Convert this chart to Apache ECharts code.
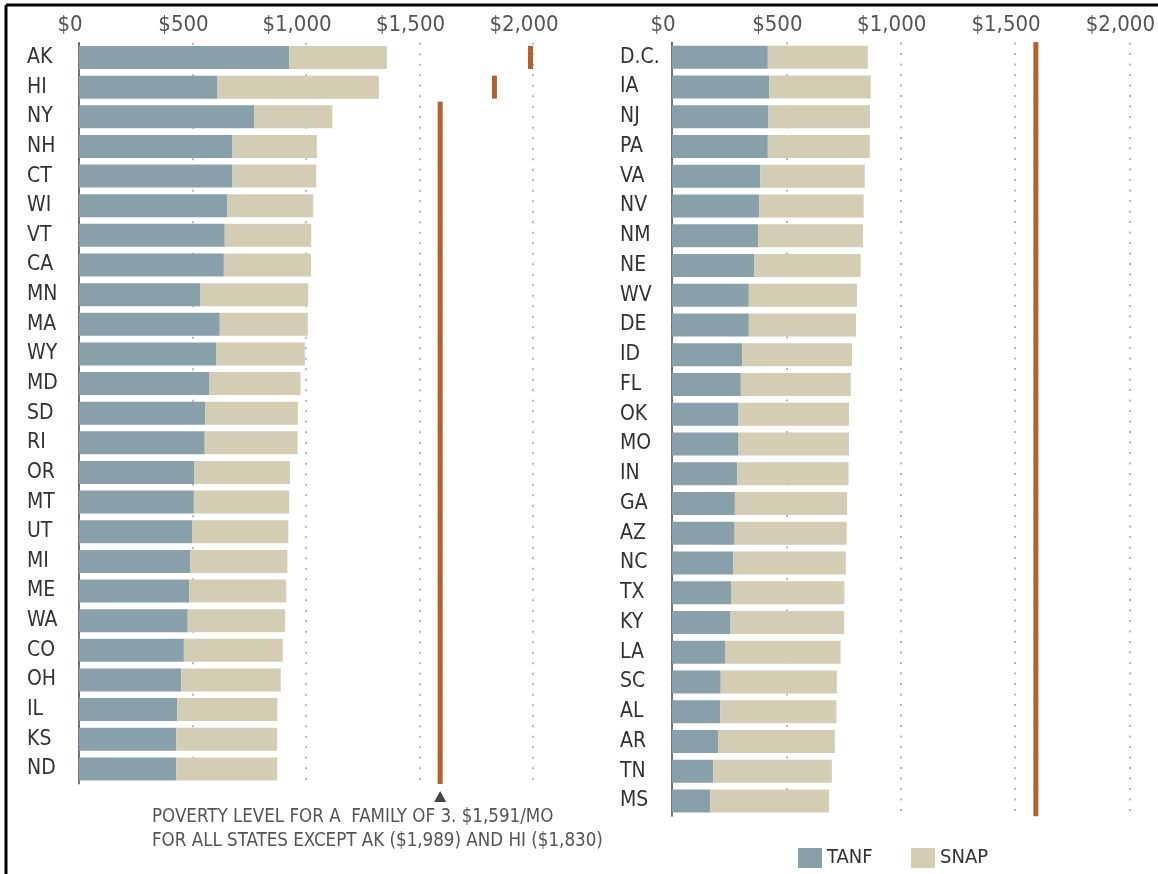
<!DOCTYPE html>
<html>
<head>
<meta charset="utf-8">
<script src="https://cdn.jsdelivr.net/npm/echarts@6/dist/echarts.min.js"></script>
<style>
  html, body { margin: 0; padding: 0; background: #fff; }
  #main { width: 1158px; height: 874px; }
</style>
</head>
<body>
<div id="main"></div>
<script>
// left panel (highest combined benefit first)
const statesLeft = ['AK','HI','NY','NH','CT','WI','VT','CA','MN','MA','WY','MD','SD','RI','OR','MT','UT','MI','ME','WA','CO','OH','IL','KS','ND'];
const tanfLeft = [926,610,773,676,676,654,642,638,535,620,604,575,557,554,507,506,498,491,485,479,462,451,433,428,428];
const snapLeft = [430,711,343,372,369,378,381,384,475,388,391,401,407,409,422,420,424,427,428,429,436,438,441,445,445];
const povertyLeft = [1989,1830,1591,1591,1591,1591,1591,1591,1591,1591,1591,1591,1591,1591,1591,1591,1591,1591,1591,1591,1591,1591,1591,1591,1591];

// right panel
const statesRight = ['D.C.','IA','NJ','PA','VA','NV','NM','NE','WV','DE','ID','FL','OK','MO','IN','GA','AZ','NC','TX','KY','LA','SC','AL','AR','TN','MS'];
const tanfRight = [419,425,422,419,386,381,376,359,336,336,307,301,291,291,285,275,274,268,258,256,234,213,211,201,180,167];
const snapRight = [437,444,444,446,457,457,459,466,473,469,480,481,483,483,487,491,490,492,496,497,503,508,508,511,519,520];
const povertyRight = [1591,1591,1591,1591,1591,1591,1591,1591,1591,1591,1591,1591,1591,1591,1591,1591,1591,1591,1591,1591,1591,1591,1591,1591,1591,1591];

const xTicks = [0, 500, 1000, 1500, 2000];

const FONT = "'Liberation Sans Narrow', 'DejaVu Sans Condensed', 'Roboto', sans-serif";
const TANF_COLOR = '#87a0a9';
const SNAP_COLOR = '#d3cdb4';
const LINE_COLOR = '#b4612f';

function money(v) {
    return '$' + v.toLocaleString('en-US');
}

function xAxisFor(idx) {
    return {
        type: 'value', gridIndex: idx, position: 'top',
        min: xTicks[0], max: xTicks[xTicks.length - 1], interval: 500,
        axisLine: { show: false }, axisTick: { show: false },
        axisLabel: { margin: 6, color: '#555', fontSize: 22, fontFamily: FONT, formatter: money,
                     padding: [0, 18, 0, 0] },
        splitLine: { show: true, lineStyle: { color: '#a0a0a0', width: 1.5, type: [2, 8.5] } }
    };
}

function yAxisFor(idx, cats) {
    return {
        type: 'category', gridIndex: idx, data: cats, inverse: true,
        axisLine: { show: true, lineStyle: { color: '#4a4a4a', width: 1.5 } },
        axisTick: { show: false },
        axisLabel: { align: 'left', margin: 52, color: '#333', fontSize: 21, fontFamily: FONT }
    };
}

function povertySeries(idx, cats, vals, band) {
    return {
        name: 'poverty', type: 'scatter', xAxisIndex: idx, yAxisIndex: idx,
        symbol: 'rect', silent: true, z: 5,
        data: vals.map((v, i) => [v, cats[i]]),
        symbolSize: function (val) {
            // AK and HI get their own short tick, others form a continuous line
            return val[0] === 1591 ? [5, band + 0.6] : [5, 23];
        },
        itemStyle: { color: LINE_COLOR, opacity: 1 }
    };
}

var chart = echarts.init(document.getElementById('main'));

const legendText = { fontSize: 20, color: '#333', fontFamily: FONT };

const option = {
    animation: false,
    backgroundColor: '#fff',
    grid: [
        { left: 79, top: 42.7, width: 454, height: 741 },
        { left: 672, top: 42.4, width: 459, height: 773.5 }
    ],
    xAxis: [xAxisFor(0), xAxisFor(1)],
    yAxis: [yAxisFor(0, statesLeft), yAxisFor(1, statesRight)],
    legend: [
        { data: ['TANF'], left: 793, top: 843, itemWidth: 24, itemHeight: 20, selectedMode: false,
          icon: 'rect', textStyle: legendText },
        { data: ['SNAP'], left: 906, top: 843, itemWidth: 24, itemHeight: 20, selectedMode: false,
          icon: 'rect', textStyle: legendText }
    ],
    series: [
        { name: 'TANF', type: 'bar', stack: 'l', xAxisIndex: 0, yAxisIndex: 0, barWidth: 23,
          itemStyle: { color: TANF_COLOR }, data: tanfLeft },
        { name: 'SNAP', type: 'bar', stack: 'l', xAxisIndex: 0, yAxisIndex: 0, barWidth: 23,
          itemStyle: { color: SNAP_COLOR }, data: snapLeft },
        { name: 'TANF', type: 'bar', stack: 'r', xAxisIndex: 1, yAxisIndex: 1, barWidth: 23,
          itemStyle: { color: TANF_COLOR }, data: tanfRight },
        { name: 'SNAP', type: 'bar', stack: 'r', xAxisIndex: 1, yAxisIndex: 1, barWidth: 23,
          itemStyle: { color: SNAP_COLOR }, data: snapRight },
        povertySeries(0, statesLeft, povertyLeft, 741 / statesLeft.length),
        povertySeries(1, statesRight, povertyRight, 773.5 / statesRight.length)
    ]
};
option && chart.setOption(option);

// annotation under the left panel, pinned to the poverty level
var px = chart.convertToPixel({ xAxisIndex: 0 }, 1591);
chart.setOption({
    graphic: [
        { type: 'line', shape: { x1: 6, y1: 5, x2: 1158, y2: 5 }, style: { stroke: '#000', lineWidth: 3 } },
        { type: 'line', shape: { x1: 6, y1: 5, x2: 6, y2: 874 }, style: { stroke: '#000', lineWidth: 3 } },
        { type: 'polygon', shape: { points: [[px, 791], [px - 6, 802], [px + 6, 802]] }, style: { fill: '#444' } },
        { type: 'text', left: 152, top: 805, style: {
            text: 'POVERTY LEVEL FOR A  FAMILY OF 3. $1,591/MO\nFOR ALL STATES EXCEPT AK ($1,989) AND HI ($1,830)',
            fill: '#555', fontSize: 18.6, lineHeight: 24, fontFamily: FONT } }
    ]
});
</script>
</body>
</html>
